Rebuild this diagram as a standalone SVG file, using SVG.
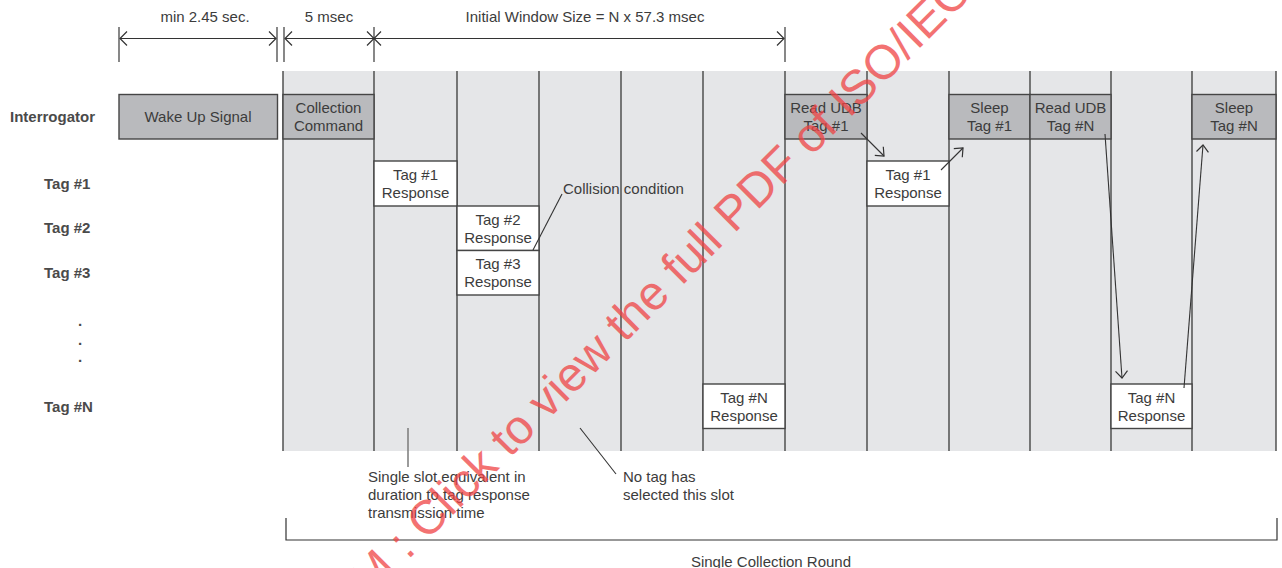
<svg xmlns="http://www.w3.org/2000/svg" width="1282" height="568" viewBox="0 0 1282 568">
<style>
.lbl{font-family:"Liberation Sans",Arial,sans-serif;font-size:15px;font-weight:bold;fill:#4a4a4a}
.t{font-family:"Liberation Sans",Arial,sans-serif;font-size:15px;fill:#3c3c3c;text-anchor:middle}
.ts{font-family:"Liberation Sans",Arial,sans-serif;font-size:15px;fill:#3c3c3c}
.col{stroke:#454545;stroke-width:1.4}
.bd{fill:#b9babd;stroke:#454545;stroke-width:1.4}
.bw{fill:#ffffff;stroke:#454545;stroke-width:1.4}
.dim{stroke:#333;stroke-width:1.2;fill:none}
.tick{stroke:#555;stroke-width:1.4}
.ar{stroke:#333;stroke-width:1.1;fill:none}
.wm{font-family:"Liberation Sans",Arial,sans-serif;font-size:48px;fill:#ef4444;opacity:0.75}
</style>
<defs>
<marker id="oa" markerWidth="10" markerHeight="16" refX="8" refY="8" orient="auto-start-reverse" markerUnits="userSpaceOnUse">
<path d="M1,1 L8,8 L1,15" fill="none" stroke="#333" stroke-width="1.2"/>
</marker>
<marker id="ca" markerWidth="10" markerHeight="14" refX="8" refY="7" orient="auto" markerUnits="userSpaceOnUse">
<path d="M1,1 L8,7 L1,13" fill="none" stroke="#333" stroke-width="1.2"/>
</marker>
</defs>
<rect width="1282" height="568" fill="#ffffff"/>

<g id="dimensions">
<line class="tick" x1="119" y1="27" x2="119" y2="62"/>
<line class="tick" x1="277" y1="27" x2="277" y2="62"/>
<line class="tick" x1="284" y1="27" x2="284" y2="62"/>
<line class="tick" x1="374" y1="27" x2="374" y2="62"/>
<line class="tick" x1="785" y1="27" x2="785" y2="62"/>
<line class="dim" x1="120" y1="38.5" x2="276" y2="38.5" marker-start="url(#oa)" marker-end="url(#oa)"/>
<line class="dim" x1="285" y1="38.5" x2="374" y2="38.5" marker-start="url(#oa)" marker-end="url(#oa)"/>
<line class="dim" x1="374" y1="38.5" x2="784" y2="38.5" marker-start="url(#oa)" marker-end="url(#oa)"/>
<text class="t" x="205" y="22">min 2.45 sec.</text>
<text class="t" x="329" y="22">5 msec</text>
<text class="t" x="585" y="22">Initial Window Size = N x 57.3 msec</text>
</g>

<g id="band">
<rect x="283" y="71" width="993" height="380" fill="#e5e6e8"/>
<g class="col">
<line x1="283" y1="71" x2="283" y2="451"/>
<line x1="374" y1="71" x2="374" y2="451"/>
<line x1="457" y1="71" x2="457" y2="451"/>
<line x1="539" y1="71" x2="539" y2="451"/>
<line x1="621" y1="71" x2="621" y2="451"/>
<line x1="703" y1="71" x2="703" y2="451"/>
<line x1="785" y1="71" x2="785" y2="451"/>
<line x1="867" y1="71" x2="867" y2="451"/>
<line x1="949" y1="71" x2="949" y2="451"/>
<line x1="1030" y1="71" x2="1030" y2="451"/>
<line x1="1111" y1="71" x2="1111" y2="451"/>
<line x1="1192" y1="71" x2="1192" y2="451"/>
<line x1="1276" y1="71" x2="1276" y2="451"/>
</g>
</g>

<g id="row-labels">
<text class="lbl" x="10" y="122">Interrogator</text>
<text class="lbl" x="44" y="189">Tag #1</text>
<text class="lbl" x="44" y="233">Tag #2</text>
<text class="lbl" x="44" y="277.5">Tag #3</text>
<text class="lbl" x="78" y="326">.</text>
<text class="lbl" x="78" y="345">.</text>
<text class="lbl" x="78" y="362">.</text>
<text class="lbl" x="44" y="411.5">Tag #N</text>
</g>

<g id="wake-up">
<rect class="bd" x="119" y="94.5" width="158.5" height="44.5"/>
<text class="t" x="198" y="122">Wake Up Signal</text>
</g>
<g id="collection-command">
<rect class="bd" x="283" y="94.5" width="91" height="44.5"/>
<text class="t" x="328.5" y="112.5">Collection</text>
<text class="t" x="328.5" y="130.5">Command</text>
</g>
<g id="tag1-response-a">
<rect class="bw" x="374" y="161" width="83" height="45"/>
<text class="t" x="415.5" y="179.5">Tag #1</text>
<text class="t" x="415.5" y="197.5">Response</text>
</g>
<g id="tag2-response">
<rect class="bw" x="457" y="206" width="82" height="44.5"/>
<text class="t" x="498" y="224.5">Tag #2</text>
<text class="t" x="498" y="242.5">Response</text>
</g>
<g id="tag3-response">
<rect class="bw" x="457" y="250.5" width="82" height="44.5"/>
<text class="t" x="498" y="268.5">Tag #3</text>
<text class="t" x="498" y="287">Response</text>
</g>
<g id="tagN-response-a">
<rect class="bw" x="703" y="384" width="82" height="44.5"/>
<text class="t" x="744" y="402.5">Tag #N</text>
<text class="t" x="744" y="421">Response</text>
</g>
<g id="read-udb-1">
<rect class="bd" x="785" y="94.5" width="82" height="44.5"/>
<text class="t" x="826" y="112.5">Read UDB</text>
<text class="t" x="826" y="130.5">Tag #1</text>
</g>
<g id="tag1-response-b">
<rect class="bw" x="867" y="161" width="82" height="45"/>
<text class="t" x="908" y="179.5">Tag #1</text>
<text class="t" x="908" y="197.5">Response</text>
</g>
<g id="sleep-1">
<rect class="bd" x="949" y="94.5" width="81" height="44.5"/>
<text class="t" x="989.5" y="112.5">Sleep</text>
<text class="t" x="989.5" y="130.5">Tag #1</text>
</g>
<g id="read-udb-n">
<rect class="bd" x="1030" y="94.5" width="81" height="44.5"/>
<text class="t" x="1070.5" y="112.5">Read UDB</text>
<text class="t" x="1070.5" y="130.5">Tag #N</text>
</g>
<g id="tagN-response-b">
<rect class="bw" x="1111" y="384" width="81" height="44.5"/>
<text class="t" x="1151.5" y="402.5">Tag #N</text>
<text class="t" x="1151.5" y="421">Response</text>
</g>
<g id="sleep-n">
<rect class="bd" x="1192" y="94.5" width="84" height="44.5"/>
<text class="t" x="1234" y="112.5">Sleep</text>
<text class="t" x="1234" y="130.5">Tag #N</text>
</g>

<g id="connectors">
<line class="ar" x1="861" y1="133" x2="884" y2="156" marker-end="url(#ca)"/>
<line class="ar" x1="941" y1="170" x2="963" y2="148" marker-end="url(#ca)"/>
<line class="ar" x1="1105" y1="134" x2="1122" y2="378" marker-end="url(#ca)"/>
<line class="ar" x1="1184" y1="388" x2="1203" y2="145" marker-end="url(#ca)"/>
<line class="ar" x1="562" y1="194" x2="533" y2="250"/>
<line x1="408" y1="428" x2="408" y2="467" stroke="#7a7a7a" stroke-width="1.5"/>
<line class="ar" x1="580" y1="428" x2="616" y2="474"/>
<polyline class="dim" points="286,518 286,540 1277,540 1277,518"/>
</g>

<g id="annotations">
<text class="ts" x="563" y="193.5">Collision condition</text>
<text class="ts" x="368" y="482">Single slot equivalent in</text>
<text class="ts" x="368" y="500">duration to tag response</text>
<text class="ts" x="368" y="517.5">transmission time</text>
<text class="ts" x="623" y="482">No tag has</text>
<text class="ts" x="623" y="500">selected this slot</text>
<text class="t" x="771" y="567">Single Collection Round</text>
</g>

<g id="watermark">
<text class="wm" transform="translate(370,598) rotate(-45)">M : Click to view the full PDF of ISO/IEC</text>
</g>
</svg>
